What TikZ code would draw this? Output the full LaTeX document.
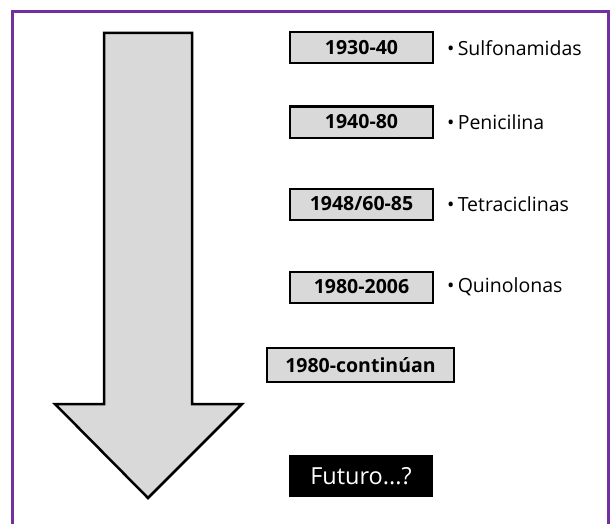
\documentclass[tikz,border=0pt]{standalone}
\usepackage{fontspec}
\setmainfont{Open Sans}
\usetikzlibrary{positioning}
\definecolor{framepurple}{HTML}{7030A0}
\definecolor{arrowgray}{HTML}{D9D9D9}

\begin{document}
\begin{tikzpicture}[x=1pt,y=-1pt,
  period/.style={draw,line width=2pt,fill=arrowgray,inner sep=2pt,
    minimum width=143pt,minimum height=31pt,
    font=\bfseries\fontsize{19.5}{22}\selectfont},
  drug/.style={right=11pt of #1,inner sep=2pt,font=\fontsize{19.5}{22}\selectfont}]
\useasboundingbox (0,0) rectangle (612,524);
\draw[framepurple,line width=3pt] (12,524) -- (12,12) -- (608,12) -- (608,524);
% big arrow
\draw[line width=2.5pt,fill=arrowgray,line join=miter]
  (104,33) -- (192,33) -- (192,404) -- (242,404) -- (148,498)
  -- (55,404) -- (104,404) -- cycle;
% periods
\foreach \ypos/\yr/\drugname [count=\i] in {48/1930-40/Sulfonamidas,
    122/1940-80/Penicilina, 204/1948{/}60-85/Tetraciclinas,
    287/1980-2006/Quinolonas} {
  \node[period] (p\i) at (361.5,\ypos) {\yr};
  \node[drug=p\i] (d\i) {\textbullet\,\drugname};
}
\node[period,minimum width=187pt,minimum height=34pt] (p5) at (360.5,365) {1980-continúan};
\node[fill=black,text=white,minimum width=144pt,minimum height=42pt,
  font=\fontsize{23.5}{26}\selectfont] (fut) at (361,476) {Futuro...?};
\end{tikzpicture}
\end{document}
